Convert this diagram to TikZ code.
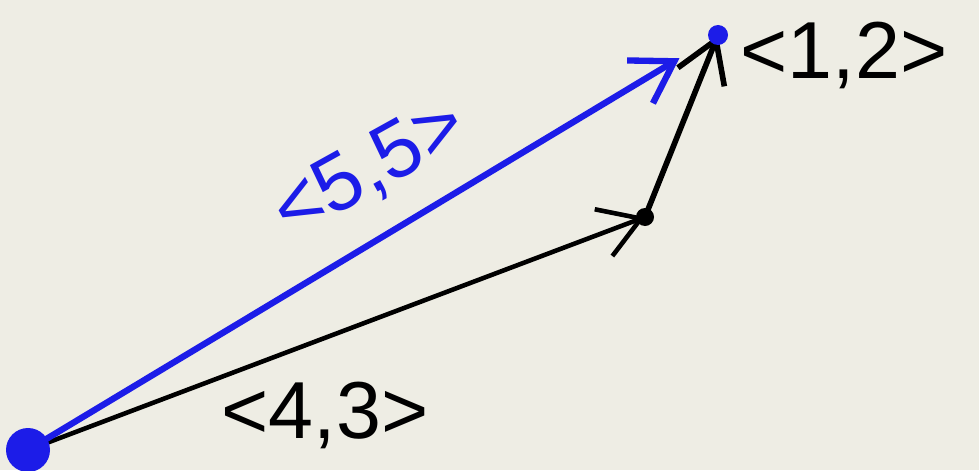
\documentclass[tikz,border=0pt]{standalone}
\usepackage{fontspec}
\setmainfont{Liberation Sans}
\usepackage{xcolor}
\usetikzlibrary{arrows.meta,positioning,calc}
\definecolor{paper}{HTML}{EEEDE4}
\definecolor{penblue}{HTML}{1C1CE8}
\begin{document}
\begin{tikzpicture}[every node/.style={font=\fontsize{23}{27}\selectfont}, >={Straight Barb[length=4mm,width=5mm]}]
\fill[paper] (0,0) rectangle (9.79,4.70);
\useasboundingbox (0,0) rectangle (9.79,4.70);
\coordinate (orig) at (0.28,0.20);
\coordinate (mid) at (6.45,2.53);
\coordinate (tip) at (7.18,4.35);
\draw[->, line width=1.3pt] (orig) -- (mid);
\draw[->, line width=1.6pt] (mid) -- (tip);
\draw[->, penblue, line width=1.8pt, shorten >=0.45cm] (orig) -- (tip);
\fill[penblue] (orig) circle (2.2mm);
\fill[penblue] (tip) circle (1mm);
\fill (mid) circle (0.9mm);
\node (vecA) at (3.25,0.55) {<4,3>};
\node[penblue, rotate=29] (vecC) at (3.70,3.00) {<5,5>};
\node[right=0.1cm of tip, yshift=-0.2cm] (vecB) {<1,2>};
\end{tikzpicture}
\end{document}
